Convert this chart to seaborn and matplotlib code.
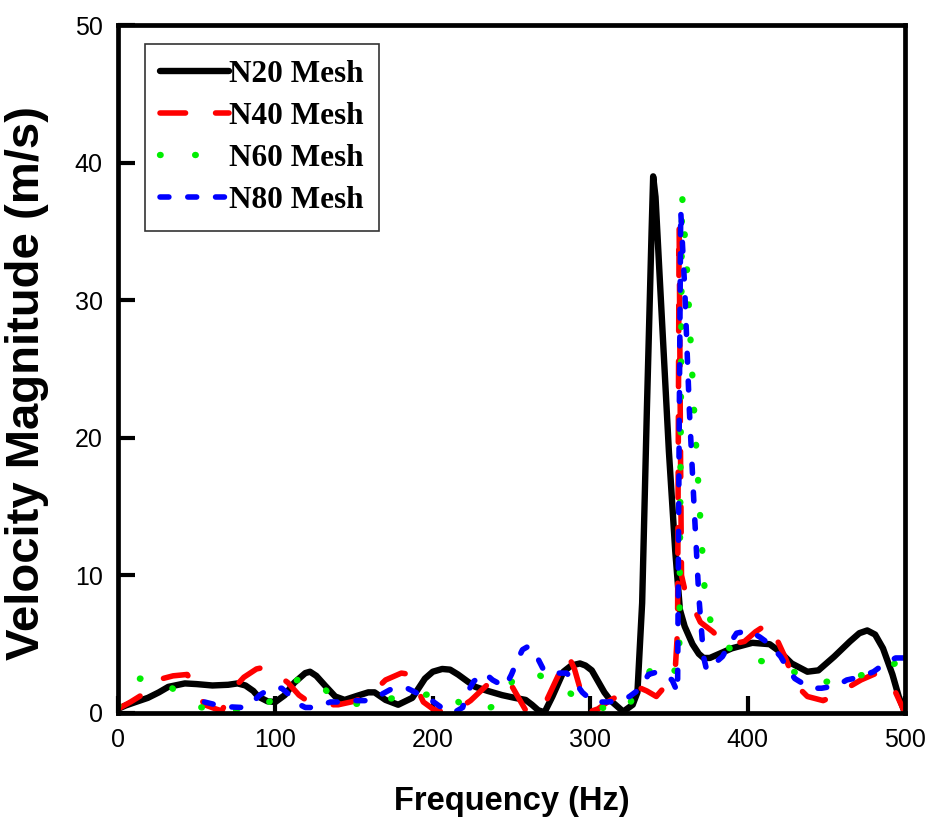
import matplotlib
matplotlib.use("Agg")
import matplotlib.pyplot as plt
from matplotlib import font_manager as fm
import seaborn as sns
import pandas as pd

# ---------------- data ----------------
n20_freq = [0, 5, 10, 19, 26, 32, 42.5, 50, 60, 70, 76, 81, 86, 89, 95, 100, 106, 112, 119, 122,
            126, 131.5, 138, 144, 152, 159, 163, 170, 178, 187, 195, 200, 206, 211, 216, 222, 227,
            235, 244, 252, 259, 263, 267, 271, 276, 283, 288, 293.5, 297, 301, 305, 309, 313, 316,
            321, 327, 330, 333, 336, 339, 340, 341.5, 344, 347, 350, 354, 357, 360, 365, 369, 372,
            376, 380, 390, 403, 414, 420, 428, 438, 445, 455, 465, 471, 476, 481, 486, 492, 496, 500]
n20_vel = [0.3, 0.55, 0.75, 1.1, 1.5, 1.9, 2.15, 2.1, 2.0, 2.05, 2.15, 2.0, 1.6, 1.2, 0.85, 0.8,
           1.3, 2.2, 2.9, 3.0, 2.7, 2.0, 1.2, 0.95, 1.25, 1.5, 1.5, 0.95, 0.6, 1.1, 2.5, 3.0, 3.2,
           3.15, 2.8, 2.3, 1.9, 1.6, 1.3, 1.1, 0.95, 0.6, 0.2, 0.05, 1.2, 3.0, 3.45, 3.6, 3.45, 3.1,
           2.3, 1.5, 0.9, 0.6, 0.1, 0.6, 1.5, 8, 22, 35, 39, 37.5, 32, 25.5, 19, 11.8, 7.5, 6.3, 5.0,
           4.3, 4.0, 4.0, 4.2, 4.7, 5.1, 5.0, 4.5, 3.6, 3.0, 3.1, 4.1, 5.2, 5.8, 6.0, 5.7, 4.7, 2.8,
           1.2, 0.0]

n40_freq = [0, 8, 15, 25, 35, 44, 50, 55, 62, 66, 72, 80, 88, 92, 100, 108, 115, 120, 130, 140,
            150, 160, 170, 180, 186, 194, 200, 208, 215, 224, 236, 243, 250, 259, 265, 271, 280,
            286, 290, 295, 300, 305, 311, 320, 330, 336, 342, 348, 354, 355.5, 356.5, 357.3, 358,
            360, 365, 370, 378, 384, 390, 398, 405, 413, 418, 424, 431, 438, 448, 456, 463, 472,
            482, 488, 494, 500]
n40_vel = [0.3, 0.8, 1.3, 2.4, 2.7, 2.8, 1.6, 0.6, 0.3, 0.15, 1.6, 2.6, 3.2, 3.3, 2.9, 2.2, 1.3,
           0.9, 0.6, 0.6, 0.85, 1.3, 2.4, 2.9, 2.8, 0.8, 0.3, 0.0, 0.2, 0.9, 2.2, 2.4, 2.0, 0.2, 0.0,
           0.6, 2.8, 4.2, 3.2, 1.2, 0.1, 0.3, 0.8, 1.4, 1.9, 1.6, 1.2, 2.0, 3.1, 6.0, 35.5, 20, 10,
           9.0, 7.8, 6.6, 5.9, 5.2, 5.0, 5.2, 5.9, 6.5, 5.5, 4.0, 2.0, 1.2, 0.9, 1.3, 1.8, 2.4, 2.9,
           2.3, 1.5, 0.0]

n60_freq = [0, 7, 14, 22, 30, 40, 49, 60, 71, 82, 93, 108, 117, 125, 135, 145, 155, 165, 176, 187,
            197, 206, 215, 224, 233, 243, 253, 260, 267, 280, 297, 310, 321, 328, 334, 343, 350,
            356.5, 357.5, 358.3, 361.5, 366, 370, 373.5, 382, 392, 403, 412, 421, 431, 442, 453,
            464, 474, 484, 492, 500]
n60_vel = [0.5, 1.6, 2.5, 2.5, 2.2, 1.3, 0.5, 0.25, 0.15, 0.25, 0.5, 2.0, 2.6, 2.5, 1.3, 0.6, 0.7,
           0.9, 1.1, 1.2, 1.35, 1.5, 0.9, 0.2, 0.3, 0.6, 2.9, 3.0, 2.8, 1.9, 0.8, 0.3, 0.0, 1.2, 2.4,
           3.9, 3.3, 2.9, 20, 37.8, 32.2, 22, 14, 7.5, 5.3, 4.4, 3.9, 3.7, 3.5, 2.9, 2.2, 2.3, 2.5,
           2.8, 3.1, 3.5, 4.0]

n80_freq = [55, 62, 70, 79, 84, 90, 97, 104, 109, 114, 119, 125, 130, 135, 142, 150, 159, 165, 173,
            182, 189, 197, 203, 208, 213, 219, 222, 226, 233, 238, 246, 250, 254, 257, 260, 264,
            267, 271, 279, 285, 290, 295, 302, 311, 319, 325, 332, 337, 343, 348, 352, 355.5, 356.5,
            357.5, 360, 363, 366, 369, 372, 374, 379, 384, 389, 393, 401, 408, 414, 421, 425, 430,
            440, 447, 457, 463, 471, 480, 486, 494, 500]
n80_vel = [0.8, 0.6, 0.45, 0.4, 0.6, 1.3, 1.8, 1.8, 1.3, 0.7, 0.4, 0.4, 0.6, 0.8, 0.8, 0.9, 0.9,
           1.2, 1.7, 1.9, 1.5, 1.1, 0.6, 0.2, 0.0, 0.4, 1.5, 2.3, 2.9, 2.4, 1.9, 2.8, 3.9, 4.6, 4.8,
           4.6, 3.9, 3.0, 2.9, 2.9, 2.3, 1.5, 0.8, 0.8, 0.9, 1.2, 1.8, 2.8, 3.0, 2.7, 2.4, 1.5, 20,
           36.5, 31, 22, 15, 8.5, 4.1, 3.1, 3.6, 4.1, 5.1, 5.8, 6.0, 5.5, 5.0, 4.1, 3.3, 2.5, 1.8,
           1.8, 2.0, 2.4, 2.6, 3.0, 3.5, 4.0, 4.0]

series_names = ["N20 Mesh", "N40 Mesh", "N60 Mesh", "N80 Mesh"]
series_colors = ["#000000", "#ff0000", "#00ee00", "#0000ff"]

# ---------------- figure ----------------
sns.set_style("ticks")
plt.rcParams.update({
    "font.family": ["Liberation Sans", "DejaVu Sans"],
    "text.color": "black",
    "axes.labelcolor": "black",
    "xtick.color": "black",
    "ytick.color": "black",
    "axes.edgecolor": "black",
})

installed = {f.name for f in fm.fontManager.ttflist}
if "Liberation Sans Narrow" in installed:
    tick_font = {"family": "Liberation Sans Narrow", "size": 21.5}
    xlab_font = {"family": "Liberation Sans Narrow", "size": 27}
else:
    tick_font = {"family": "Liberation Sans", "size": 18}
    xlab_font = {"family": "Liberation Sans", "size": 23.5}

fig = plt.figure(figsize=(9.31, 8.17), dpi=100)
ax = fig.add_axes([0.1267, 0.1273, 0.8454, 0.8421])

styles = [
    dict(lw=4.6, linestyle="-"),
    dict(lw=4.0, linestyle=(0, (4.6, 5.4))),
    dict(lw=4.6, linestyle=(0, (0.1, 5.4))),
    dict(lw=4.0, linestyle=(0, (1.6, 3.4))),
]
data = [(n20_freq, n20_vel), (n40_freq, n40_vel), (n60_freq, n60_vel), (n80_freq, n80_vel)]

for (fx, fy), name, col, st in zip(data, series_names, series_colors, styles):
    df = pd.DataFrame({"Frequency": fx, "Velocity": fy})
    sns.lineplot(data=df, x="Frequency", y="Velocity", ax=ax, color=col, label=name,
                 estimator=None, sort=False, dash_capstyle="round", solid_capstyle="round",
                 solid_joinstyle="round", **st)

ax.set_xlim(0, 500)
ax.set_ylim(0, 50)
ax.set_xticks([0, 100, 200, 300, 400, 500])
ax.set_yticks([0, 10, 20, 30, 40, 50])
ax.tick_params(axis="both", which="major", direction="in", length=12, width=3,
               bottom=True, left=True, top=False, right=False, colors="black")
ax.tick_params(axis="x", pad=11)
ax.tick_params(axis="y", pad=11)
for lab in ax.get_xticklabels() + ax.get_yticklabels():
    lab.set_fontfamily(tick_font["family"])
    lab.set_fontsize(tick_font["size"])
for sp in ax.spines.values():
    sp.set_visible(True)
    sp.set_linewidth(3.4)
    sp.set_color("black")

ax.set_xlabel("Frequency (Hz)", fontsize=xlab_font["size"], family=xlab_font["family"],
              fontweight="bold", labelpad=24)
ax.set_ylabel("Velocity Magnitude (m/s)", fontsize=34, fontweight="bold")
ax.yaxis.set_label_coords(-0.088, 0.48)

leg = ax.legend(loc="upper left", bbox_to_anchor=(0.034, 0.972), frameon=True, fancybox=False,
                edgecolor="black", handlelength=2.2, handletextpad=0.0, borderpad=0.5,
                labelspacing=0.42, borderaxespad=0,
                prop={"family": ["Liberation Serif", "DejaVu Serif"], "weight": "bold", "size": 22.5})
leg.get_frame().set_linewidth(1.2)

fig.savefig("out.png", dpi=100)
